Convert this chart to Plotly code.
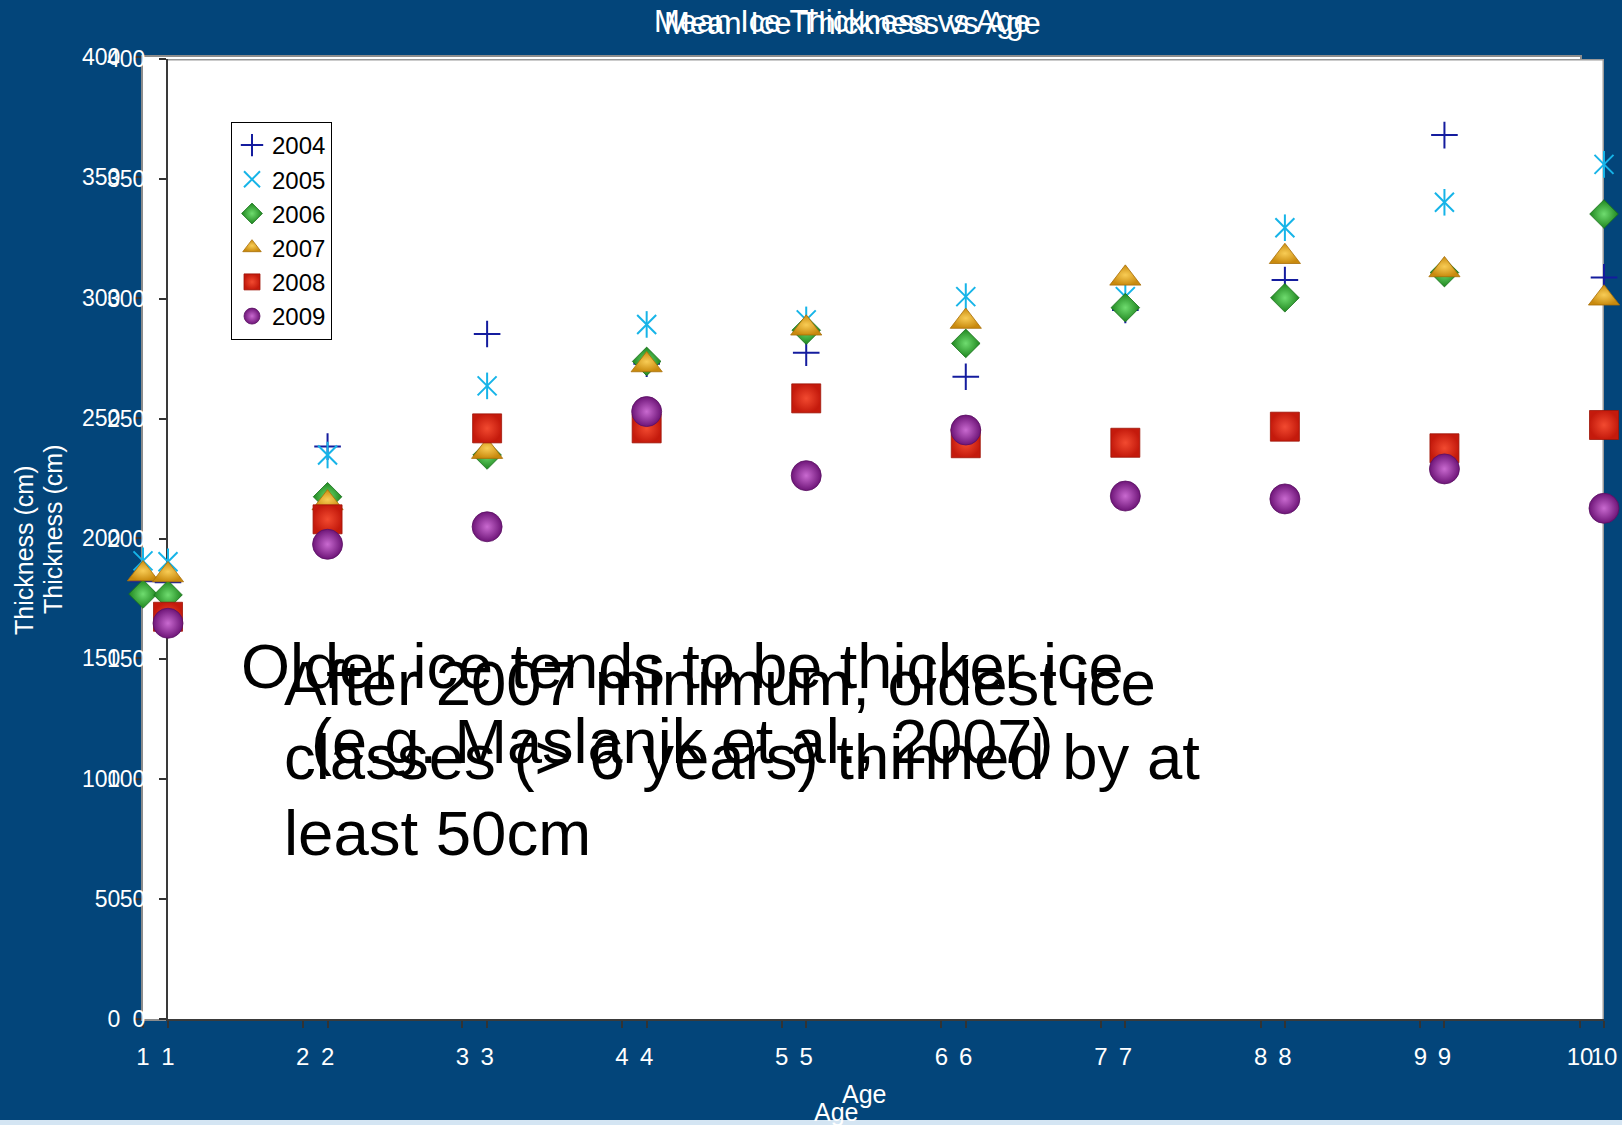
import plotly.graph_objects as go

W, H = 1622, 1125

# ---------------- data ----------------
ages = [1, 2, 3, 4, 5, 6, 7, 8, 9, 10]
age_labels = ["1", "2", "3", "4", "5", "6", "7", "8", "9", "10"]
thick_ticks = [0, 50, 100, 150, 200, 250, 300, 350, 400]
thick_labels = ["0", "50", "100", "150", "200", "250", "300", "350", "400"]

t2004 = [182, 238.5, 285.4, 273, 277.6, 267.6, 295.4, 307.9, 368.3, 309.0]
t2005 = [190.5, 235, 263.8, 289.4, 291.3, 301.0, 301, 329.7, 340.3, 356.1]
t2006 = [176.7, 217.6, 235, 274, 287, 281.5, 296.4, 300.5, 311, 335.4]
t2007 = [185, 215, 236.4, 272.5, 287.8, 290.6, 308.6, 317.6, 312.1, 300.3]
t2008 = [167.6, 208.2, 246.1, 246.1, 258.6, 239.9, 240.1, 246.8, 237.8, 247.5]
t2009 = [164.9, 197.8, 205.1, 253.1, 226.4, 245.4, 217.9, 216.7, 229.2, 212.8]

series = {"2004": t2004, "2005": t2005, "2006": t2006,
          "2007": t2007, "2008": t2008, "2009": t2009}
older_years = ["2004", "2005", "2006", "2007"]   # first (background) chart

title_text = "Mean Ice Thickness vs Age"
x_title = "Age"
y_title = "Thickness (cm)"
note1 = ["Older ice tends to be thicker ice", "(e.g. Maslanik et al., 2007)"]
note2 = ["After 2007 minimum, oldest ice", "classes (> 6 years) thinned by at", "least 50cm"]

X_RANGE = [1, 10]
Y_RANGE = [0, 400]

# ---------------- style ----------------
BLUE = "#03457a"
FONT = "Liberation Sans, Arial, sans-serif"


def px_x(p):
    return p / W


def px_y(p):
    return 1 - p / H


styles = {
    "2004": dict(symbol="cross-thin-open", size=19, color="#141c9e",
                 line=dict(color="#141c9e", width=2)),
    "2005": dict(symbol="x-thin-open", size=19, color="#16b4e8",
                 line=dict(color="#16b4e8", width=2)),
    "2006": dict(symbol="diamond", size=22, color="#1f861f",
                 gradient=dict(type="radial", color="#6fdc6f"),
                 line=dict(color="#17701a", width=0.8)),
    "2007": dict(symbol="triangle-up", size=27, color="#c98a0e",
                 gradient=dict(type="radial", color="#f8cc55"),
                 line=dict(color="#a86e08", width=0.8)),
    "2008": dict(symbol="square", size=29, color="#c41a0c",
                 gradient=dict(type="radial", color="#f24a30"),
                 line=dict(color="#9e1408", width=0.8)),
    "2009": dict(symbol="circle", size=30, color="#6e1578",
                 gradient=dict(type="radial", color="#c96ad0"),
                 line=dict(color="#5a1063", width=0.8)),
}
asterisk_bar = dict(symbol="line-ns-open", size=19, color="#16b4e8",
                    line=dict(color="#16b4e8", width=2))

fig = go.Figure()


def add_series(year, xa, ya, legend):
    fig.add_trace(go.Scatter(
        x=ages, y=series[year], mode="markers", name=year,
        marker=styles[year], xaxis=xa, yaxis=ya, showlegend=legend,
        legendgroup=year + xa, cliponaxis=False, hoverinfo="x+y+name"))
    if year == "2005":
        fig.add_trace(go.Scatter(
            x=ages, y=series[year], mode="markers", name=year,
            marker=asterisk_bar, xaxis=xa, yaxis=ya, showlegend=False,
            legendgroup=year + xa, cliponaxis=False, hoverinfo="skip"))


# background (earlier) chart, mostly hidden behind the later one
for yr in older_years:
    add_series(yr, "x", "y", False)
# foreground chart
for yr in series:
    add_series(yr, "x2", "y2", True)

tickfont = dict(family=FONT, size=23, color="white")
xtickfont = dict(family=FONT, size=24, color="white")


def xaxis_cfg(domain, anchor, linecolor, mirror):
    return dict(domain=domain, anchor=anchor, range=X_RANGE, tickmode="array",
                tickvals=ages, ticktext=age_labels, ticks="outside", ticklen=7,
                tickwidth=1.5, tickcolor="#333333", showline=True,
                linecolor=linecolor, linewidth=2, mirror=mirror,
                showgrid=False, zeroline=False, tickfont=xtickfont,
                ticklabelstandoff=8, layer="below traces", fixedrange=True,
                automargin=False)


def yaxis_cfg(domain, anchor, linecolor, mirror):
    return dict(domain=domain, anchor=anchor, range=Y_RANGE, tickmode="array",
                tickvals=thick_ticks, ticktext=thick_labels, ticks="outside",
                ticklen=7, tickwidth=1.5, tickcolor="#333333", showline=True,
                linecolor=linecolor, linewidth=2, mirror=mirror,
                showgrid=False, zeroline=False, tickfont=tickfont,
                ticklabelstandoff=9, layer="below traces", fixedrange=True,
                automargin=False)


annotations = []


def ann(text, x, y, size, color="white", xanchor="center", yanchor="middle",
        angle=0):
    annotations.append(dict(text=text, x=px_x(x), y=px_y(y), xref="paper",
                            yref="paper", showarrow=False, xanchor=xanchor,
                            yanchor=yanchor, textangle=angle,
                            font=dict(family=FONT, size=size, color=color)))


# titles (two overlapping copies, one per chart)
ann(title_text, 842, 22, 31)
ann(title_text, 852, 24, 31)
ann(x_title, 836, 1112, 25)
ann(x_title, 864, 1094, 25)
ann(y_title, 24, 551, 25, angle=-90)
ann(y_title, 53, 530, 25, angle=-90)

# overlapping slide notes
for line, yc in zip(note1, [666, 741]):
    ann(line, 681.5, yc, 63, color="black")
for line, yc in zip(note2, [683, 757, 833]):
    ann(line, 282, yc, 63.5, color="black", xanchor="left")

shapes = [
    # gray top / right border of the foreground plot area
    dict(type="line", xref="x2", yref="y2", x0=X_RANGE[0], x1=X_RANGE[1],
         y0=Y_RANGE[1], y1=Y_RANGE[1], line=dict(color="#9a9a9a", width=3),
         layer="below"),
    dict(type="line", xref="x2", yref="y2", x0=X_RANGE[1], x1=X_RANGE[1],
         y0=Y_RANGE[0], y1=Y_RANGE[1], line=dict(color="#9a9a9a", width=3),
         layer="below"),
    # light strip along the bottom of the slide
    dict(type="rect", xref="paper", yref="paper", x0=0, x1=1, y0=px_y(1125),
         y1=px_y(1120), fillcolor="#d4e5f3", line=dict(width=0), layer="below"),
]

fig.update_layout(
    template="none",
    width=W, height=H, autosize=False,
    margin=dict(l=0, r=0, t=0, b=0, pad=0, autoexpand=False),
    paper_bgcolor=BLUE, plot_bgcolor="white",
    showlegend=True,
    legend=dict(x=px_x(231), y=px_y(122), xanchor="left", yanchor="top",
                bgcolor="white", bordercolor="black", borderwidth=1,
                font=dict(family=FONT, size=24, color="black"),
                tracegroupgap=0, itemwidth=30),
    xaxis=xaxis_cfg([px_x(143), px_x(1580)], "y", "#8c8c8c", True),
    yaxis=yaxis_cfg([px_y(1019), px_y(57)], "x", "#8c8c8c", True),
    xaxis2=xaxis_cfg([px_x(168), px_x(1604)], "y2", "#3a3a3a", False),
    yaxis2=yaxis_cfg([px_y(1019), px_y(59)], "x2", "#3a3a3a", False),
    annotations=annotations,
    shapes=shapes,
)

fig.write_html(
    "out.html",
    config={"displayModeBar": False},
    post_script="document.body.style.margin='0';document.body.style.overflow='hidden';",
)
